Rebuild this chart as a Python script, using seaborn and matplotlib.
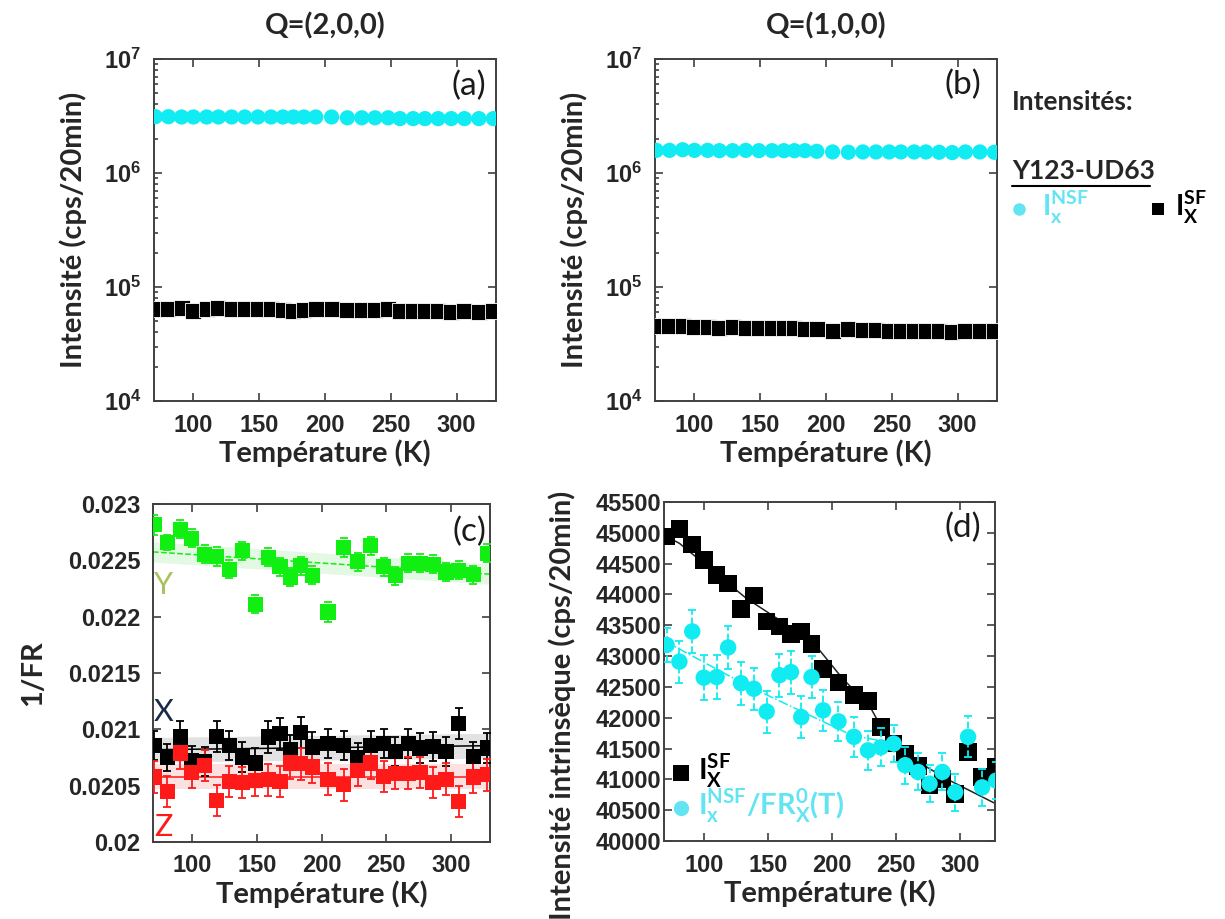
import numpy as np
import pandas as pd
import seaborn as sns
import matplotlib.pyplot as plt
from matplotlib.lines import Line2D
from matplotlib.ticker import NullFormatter
from matplotlib.font_manager import FontProperties

# temperatures (K), same scan for every panel
temps = [71, 81, 91, 100, 110, 119, 129, 139, 149, 159, 168, 176, 184, 193,
         205, 217, 228, 238, 248, 257, 267, 276, 286, 296, 306, 317, 328]

# (a) Q=(2,0,0)
nsf_200 = [3.12e6, 3.12e6, 3.1e6, 3.1e6, 3.1e6, 3.1e6, 3.1e6, 3.1e6, 3.1e6, 3.1e6,
           3.1e6, 3.1e6, 3.1e6, 3.1e6, 3.1e6, 3.05e6, 3.05e6, 3.05e6, 3.05e6, 3.0e6,
           3.0e6, 3.0e6, 3.0e6, 3.0e6, 3.0e6, 3.0e6, 3.0e6]
sf_200 = [6.4e4, 6.4e4, 6.6e4, 6.2e4, 6.4e4, 6.6e4, 6.4e4, 6.4e4, 6.4e4, 6.4e4,
          6.3e4, 6.2e4, 6.3e4, 6.4e4, 6.4e4, 6.3e4, 6.3e4, 6.3e4, 6.4e4, 6.2e4,
          6.2e4, 6.2e4, 6.2e4, 6.0e4, 6.2e4, 6.0e4, 6.1e4]

# (b) Q=(1,0,0)
nsf_100 = [1.58e6, 1.58e6, 1.6e6, 1.58e6, 1.58e6, 1.57e6, 1.57e6, 1.58e6, 1.57e6, 1.57e6,
           1.57e6, 1.57e6, 1.57e6, 1.55e6, 1.53e6, 1.52e6, 1.53e6, 1.53e6, 1.53e6, 1.53e6,
           1.53e6, 1.53e6, 1.52e6, 1.51e6, 1.53e6, 1.53e6, 1.52e6]
sf_100 = [4.55e4, 4.55e4, 4.55e4, 4.5e4, 4.45e4, 4.35e4, 4.45e4, 4.4e4, 4.4e4, 4.4e4,
          4.4e4, 4.35e4, 4.3e4, 4.25e4, 4.15e4, 4.25e4, 4.2e4, 4.2e4, 4.15e4, 4.1e4,
          4.1e4, 4.1e4, 4.1e4, 4.05e4, 4.1e4, 4.1e4, 4.1e4]

# (c) 1/FR for the three polarisations
inv_fr_y = [0.022816, 0.022659, 0.022777, 0.022694, 0.022555, 0.022534, 0.022421, 0.022584,
            0.02211, 0.022528, 0.022445, 0.022353, 0.022451, 0.022368, 0.022041, 0.022614,
            0.022487, 0.022629, 0.022445, 0.022362, 0.022475, 0.022475, 0.022466, 0.022397,
            0.022412, 0.022371, 0.022564]
err_y = [0.00009, 0.00007, 0.00008, 0.00008, 0.00008, 0.00008, 0.00008, 0.00008,
         0.00008, 0.00008, 0.00008, 0.00008, 0.00008, 0.00008, 0.00009, 0.00008,
         0.00008, 0.00008, 0.00008, 0.00008, 0.00008, 0.00008, 0.00008, 0.00008,
         0.00008, 0.00008, 0.00008]
inv_fr_x = [0.020855, 0.020754, 0.020932, 0.020724, 0.020715, 0.020937, 0.020855, 0.020754,
            0.020701, 0.020932, 0.020961, 0.020819, 0.020973, 0.020843, 0.020872, 0.020855,
            0.020745, 0.020855, 0.020872, 0.020804, 0.020872, 0.020834, 0.020849, 0.020804,
            0.02105, 0.020759, 0.020834]
err_x = [0.00013, 0.00012, 0.00014, 0.00013, 0.00013, 0.00014, 0.00013, 0.00013,
         0.00013, 0.00014, 0.00014, 0.00013, 0.00014, 0.00013, 0.00013, 0.00013,
         0.00013, 0.00013, 0.00013, 0.00013, 0.00013, 0.00013, 0.00013, 0.00013,
         0.00014, 0.00013, 0.00013]
inv_fr_z = [0.020576, 0.020448, 0.02079, 0.020617, 0.020677, 0.020368, 0.020537, 0.020528,
            0.020546, 0.020552, 0.020537, 0.020701, 0.020694, 0.020665, 0.020558, 0.020507,
            0.020635, 0.020701, 0.020581, 0.020611, 0.020611, 0.020617, 0.020528, 0.020558,
            0.020359, 0.020576, 0.020596]
err_z = [0.00014, 0.00014, 0.00014, 0.00014, 0.00014, 0.00014, 0.00014, 0.00014,
         0.00014, 0.00014, 0.00014, 0.00014, 0.00014, 0.00014, 0.00014, 0.00014,
         0.00014, 0.00014, 0.00014, 0.00014, 0.00014, 0.00014, 0.00014, 0.00014,
         0.00014, 0.00014, 0.00014]

# (c) linear fits and their confidence bands
fit_t = [70, 330]
fit_y = [0.022575, 0.022377]
fit_x = [0.020819, 0.020855]
fit_z = [0.020578, 0.020578]
band_y = 0.00009
band_x = 0.00011
band_z = 0.00011

# (d) intrinsic intensity
sf_d = [44940, 45060, 44810, 44560, 44320, 44180, 43760, 43980, 43560, 43480, 43360, 43400,
        43200, 42790, 42570, 42370, 42270, 41850, 41580, 41420, 41220, 40900, 41010, 40760,
        41440, 41040, 41200]
nsf_d = [43180, 42910, 43400, 42650, 42660, 43140, 42560, 42470, 42100, 42690, 42740, 42010,
         42660, 42120, 41940, 41690, 41470, 41520, 41580, 41230, 41120, 40930, 41120, 40790,
         41690, 40870, 40980]
nsf_d_err = [280, 340, 350, 360, 360, 350, 350, 340, 340, 350, 350, 340, 340, 330, 320, 320,
             310, 310, 300, 300, 300, 300, 300, 300, 330, 300, 300]
sf_fit_t = [69, 81, 133, 185, 208, 216, 229, 242, 263, 289, 328]
sf_fit = [44960, 44830, 43940, 43230, 42640, 42470, 42200, 41710, 41335, 41010, 40600]
nsf_fit_t = [69, 133, 216, 245]
nsf_fit = [43250, 42530, 41710, 41600]

t_ticks = [100, 150, 200, 250, 300]
log_ticks = [1e4, 1e5, 1e6, 1e7]
log_labels = [r'$\mathbf{10^{4}}$', r'$\mathbf{10^{5}}$', r'$\mathbf{10^{6}}$', r'$\mathbf{10^{7}}$']
c_ticks = [0.02, 0.0205, 0.021, 0.0215, 0.022, 0.0225, 0.023]
c_labels = ['0.02', '0.0205', '0.021', '0.0215', '0.022', '0.0225', '0.023']
d_ticks = [40000, 40500, 41000, 41500, 42000, 42500, 43000, 43500, 44000, 44500, 45000, 45500]

CYAN = '#10ecf2'
CYAN_TXT = '#62e4f2'
GREEN = '#11ee11'
RED = '#ff1a1a'
FRAME = '#404040'

sns.set_theme(style='ticks')
plt.rcParams['font.family'] = ['Lato', 'DejaVu Sans']
plt.rcParams['mathtext.fontset'] = 'custom'
plt.rcParams['mathtext.bf'] = 'Liberation Sans:bold'
plt.rcParams['mathtext.sf'] = 'Lato:bold'
plt.rcParams['mathtext.rm'] = 'Lato'

W, H = 1225, 919
fig = plt.figure(figsize=(W / 100, H / 100), dpi=100)


def box(l, t, r, b):
    return [l / W, 1 - b / H, (r - l) / W, (b - t) / H]


ax_a = fig.add_axes(box(154, 59, 496, 401))
ax_b = fig.add_axes(box(655, 59, 997, 401))
ax_c = fig.add_axes(box(153, 504, 490, 842))
ax_d = fig.add_axes(box(664, 502, 995, 841))


def style(ax):
    ax.set_xlim(70, 330)
    ax.set_xticks(t_ticks)
    ax.set_xticklabels([str(t) for t in t_ticks])
    ax.tick_params(which='both', direction='in', top=True, right=True, width=1.2, color=FRAME)
    ax.tick_params(which='major', length=6, labelsize=17, pad=9)
    ax.tick_params(which='minor', length=3, right=False)
    for s in ax.spines.values():
        s.set_linewidth(1.4)
        s.set_color(FRAME)
    ax.set_xlabel('Température (K)', fontsize=21, fontweight='bold', labelpad=2)


# (a) and (b): log intensities
for ax, nsf, sf in [(ax_a, nsf_200, sf_200), (ax_b, nsf_100, sf_100)]:
    sns.scatterplot(x=temps, y=nsf, ax=ax, marker='o', s=120, color=CYAN, edgecolor='none', zorder=3)
    sns.scatterplot(x=temps, y=sf, ax=ax, marker='s', s=120, color='black', edgecolor='white',
                    linewidth=0.6, zorder=3)
    ax.set_yscale('log')
    ax.set_ylim(1e4, 1e7)
    ax.set_yticks(log_ticks)
    ax.set_yticklabels(log_labels)
    ax.yaxis.set_minor_formatter(NullFormatter())
    ax.set_ylabel('Intensité (cps/20min)', fontsize=21, fontweight='bold', labelpad=12)
    style(ax)

# (c): 1/FR
for fit, half, col, band_col, ls in [
        (fit_y, band_y, GREEN, '#e3f9e3', '--'),
        (fit_x, band_x, 'black', '#e2e2e2', '-'),
        (fit_z, band_z, RED, '#fde0e0', '-')]:
    lo = [f - half for f in fit]
    hi = [f + half for f in fit]
    ax_c.fill_between(fit_t, lo, hi, color=band_col, lw=0, zorder=1)
    sns.lineplot(x=fit_t, y=fit, ax=ax_c, color=col, lw=1.1, linestyle=ls, zorder=2)

for vals, err, col, ls in [(inv_fr_y, err_y, GREEN, '--'),
                           (inv_fr_x, err_x, 'black', '-'),
                           (inv_fr_z, err_z, RED, '-')]:
    eb = ax_c.errorbar(temps, vals, yerr=err, fmt='none', ecolor=col, elinewidth=1.3,
                       capsize=3, capthick=1.3, zorder=3)
    eb[2][0].set_linestyle(ls)
    sns.scatterplot(x=temps, y=vals, ax=ax_c, marker='s', s=120, color=col, edgecolor='none', zorder=4)

ax_c.set_ylim(0.02, 0.023)
ax_c.set_yticks(c_ticks)
ax_c.set_yticklabels(c_labels)
ax_c.set_ylabel('1/FR', fontsize=21, fontweight='bold', labelpad=16)
style(ax_c)

# (d): intrinsic intensity
sns.lineplot(x=sf_fit_t, y=sf_fit, ax=ax_d, color='#222222', lw=1.1, zorder=2)
sns.lineplot(x=nsf_fit_t, y=nsf_fit, ax=ax_d, color=CYAN, lw=1.1, linestyle='-.', zorder=2)
sns.scatterplot(x=temps, y=sf_d, ax=ax_d, marker='s', s=160, color='black', edgecolor='none', zorder=3)
eb = ax_d.errorbar(temps, nsf_d, yerr=nsf_d_err, fmt='none', ecolor=CYAN, elinewidth=1.3,
                   capsize=3, capthick=1.3, zorder=4)
eb[2][0].set_linestyle('--')
sns.scatterplot(x=temps, y=nsf_d, ax=ax_d, marker='o', s=140, color=CYAN, edgecolor='none', zorder=5)
ax_d.set_ylim(40000, 45500)
ax_d.set_yticks(d_ticks)
ax_d.set_yticklabels([str(v) for v in d_ticks])
ax_d.set_ylabel('Intensité intrinsèque (cps/20min)', fontsize=21, fontweight='bold')
style(ax_d)
ax_d.set_xlim(69, 327)
ax_d.tick_params(axis='y', pad=2)
ax_d.yaxis.set_label_coords(-0.265, 0.40)

tick_font = FontProperties(family='Liberation Sans', weight='bold', size=17)
for ax in [ax_a, ax_b, ax_c, ax_d]:
    if ax.get_legend():
        ax.get_legend().remove()
    for lab in ax.get_xticklabels() + ax.get_yticklabels():
        lab.set_fontproperties(tick_font)


def ftext(x, y, s, **kw):
    fig.text(x / W, 1 - y / H, s, **kw)


def fmark(x, y, marker, color, size):
    fig.add_artist(Line2D([x / W], [1 - y / H], marker=marker, color=color, markersize=size,
                          markeredgewidth=0, transform=fig.transFigure))


# titles and panel letters
ftext(325, 26, 'Q=(2,0,0)', fontsize=21, fontweight='bold', ha='center', va='center')
ftext(826, 26, 'Q=(1,0,0)', fontsize=21, fontweight='bold', ha='center', va='center')
for x, y, s in [(469, 86, '(a)'), (963, 85, '(b)'), (469, 532, '(c)'), (963, 528, '(d)')]:
    ftext(x, y, s, fontsize=24, color='#1a1a1a', ha='center', va='center')

# polarisation labels in (c)
ftext(163, 585, 'Y', fontsize=22, color='#a9c25d', ha='center', va='center')
ftext(164, 712, 'X', fontsize=22, color='#1a2a48', ha='center', va='center')
ftext(163, 827, 'Z', fontsize=22, color=RED, ha='center', va='center')

# right-hand legend
ftext(1012, 102, 'Intensités:', fontsize=19, fontweight='bold', ha='left', va='center')
ftext(1012, 171, 'Y123-UD63', fontsize=19, fontweight='bold', ha='left', va='center')
fig.add_artist(Line2D([1012 / W, 1150 / W], [1 - 186 / H, 1 - 186 / H], color='black', lw=1.5,
                      transform=fig.transFigure))
fmark(1019, 209, 'o', CYAN_TXT, 9)
ftext(1042, 207, r'$\mathsf{I}_{\mathsf{x}}^{\mathsf{NSF}}$', fontsize=20, color=CYAN_TXT,
      ha='left', va='center')
fmark(1158, 209, 's', 'black', 9)
ftext(1175, 207, r'$\mathsf{I}_{\mathsf{X}}^{\mathsf{SF}}$', fontsize=20, color='black',
      ha='left', va='center')

# legend inside (d)
fmark(681, 773, 's', 'black', 11)
ftext(698, 771, r'$\mathsf{I}_{\mathsf{X}}^{\mathsf{SF}}$', fontsize=21, color='black',
      ha='left', va='center')
fmark(681, 808, 'o', CYAN_TXT, 11)
ftext(698, 806, r'$\mathsf{I}_{\mathsf{x}}^{\mathsf{NSF}}\mathsf{/FR}_{\mathsf{X}}^{\mathsf{0}}\mathsf{(T)}$',
      fontsize=21, color=CYAN_TXT, ha='left', va='center')

fig.savefig('out.png', dpi=100)
